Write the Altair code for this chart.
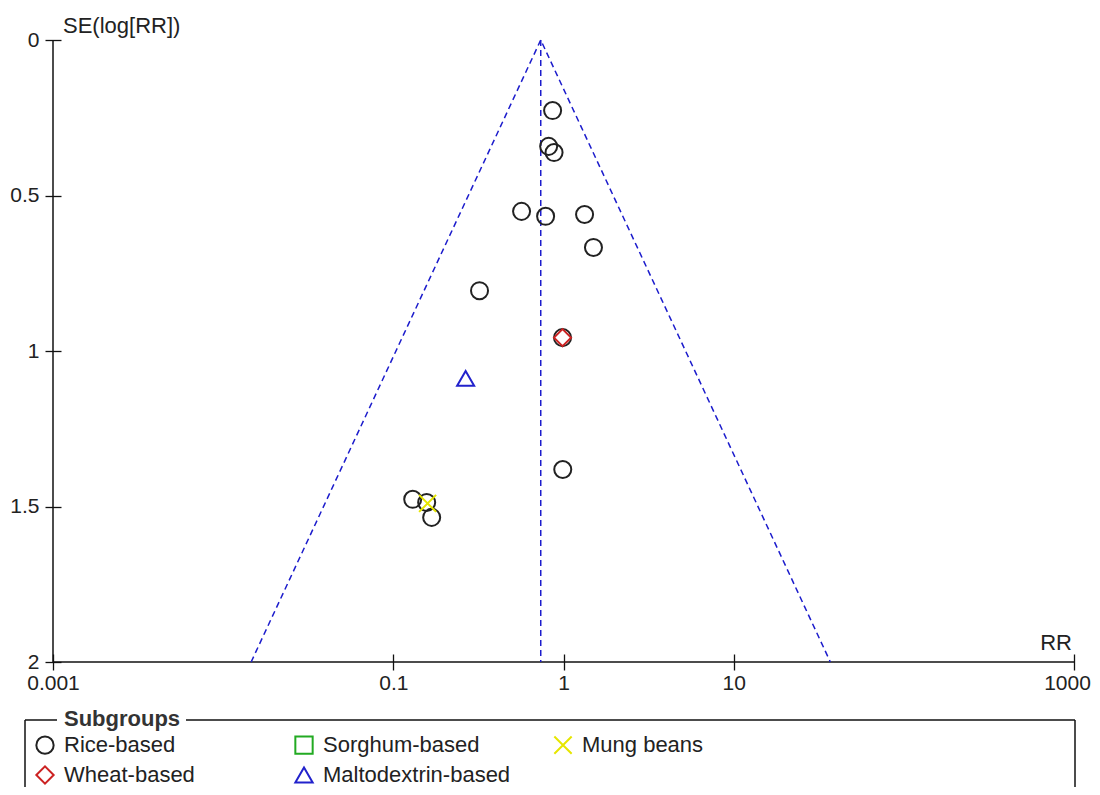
import altair as alt
import pandas as pd

# ---------------- data ----------------
groups = ["Rice-based", "Wheat-based", "Sorghum-based", "Maltodextrin-based", "Mung beans"]
group_colors = ["#222222", "#cc2222", "#22aa22", "#2222cc", "#e6e600"]
group_shapes = ["circle", "diamond", "square", "triangle-up", "M-1,-1L1,1M1,-1L-1,1"]

rice_rr = [0.863, 0.818, 0.880, 0.567, 0.785, 1.33, 1.50, 0.321, 0.987, 0.99, 0.130, 0.157, 0.168]
rice_se = [0.227, 0.342, 0.362, 0.551, 0.567, 0.561, 0.667, 0.806, 0.957, 1.381, 1.477, 1.487, 1.535]
wheat_rr = [0.987]
wheat_se = [0.957]
malto_rr = [0.266]
malto_se = [1.088]
mung_rr = [0.159]
mung_se = [1.490]

pooled_rr = [0.735]
funnel_rr = [0.0146, 0.735, 37.0]
funnel_se = [2.0, 0.0, 2.0]

x_ticks = [0.001, 0.1, 1, 10, 1000]
y_ticks = [0, 0.5, 1, 1.5, 2]

# ---------------- tables ----------------
rows = []
for r, s in zip(rice_rr, rice_se):
    rows.append({"group": "Rice-based", "rr": r, "se": s})
for r, s in zip(wheat_rr, wheat_se):
    rows.append({"group": "Wheat-based", "rr": r, "se": s})
for r, s in zip(malto_rr, malto_se):
    rows.append({"group": "Maltodextrin-based", "rr": r, "se": s})
for r, s in zip(mung_rr, mung_se):
    rows.append({"group": "Mung beans", "rr": r, "se": s})
pts = pd.DataFrame(rows)

funnel = pd.DataFrame({"rr": funnel_rr, "se": funnel_se, "ord": list(range(len(funnel_rr)))})
center = pd.DataFrame({"rr": pooled_rr, "se": [0.0], "se2": [2.0]})
one = pd.DataFrame({"a": [0]})

W, H = 1021, 622
FONT = "Liberation Sans"
TXT = "#222222"
BLUE = "#1c1ccc"

xscale = alt.Scale(type="log", domain=[0.001, 1000], nice=False)
yscale = alt.Scale(domain=[0, 2], reverse=True, nice=False, zero=False)

xaxis = alt.Axis(values=x_ticks, format="~g", title=None, grid=False, domain=False,
                 offset=-8, tickSize=16, tickColor="#111111", tickWidth=1.3,
                 labelPadding=2, labelFlush=False, labelOverlap=False, labelBound=False,
                 labelOffset=alt.condition("datum.value >= 1000", alt.value(-7), alt.value(0)),
                 labelFont=FONT, labelFontSize=21, labelColor=TXT)
yaxis = alt.Axis(values=y_ticks, format=".1~f", title=None, grid=False, domain=False,
                 offset=-8, tickSize=16, tickColor="#111111", tickWidth=1.3,
                 labelPadding=6, labelFont=FONT, labelFontSize=21, labelColor=TXT)

legend = alt.Legend(title=None, orient="none", legendX=-19, legendY=694,
                    columns=3, gridAlign="all", columnPadding=39, rowPadding=4,
                    labelFont=FONT, labelFontSize=22, labelColor=TXT, labelOffset=8,
                    labelLimit=400,
                    symbolSize=300, symbolStrokeWidth=2, symbolFillColor="transparent")

points = alt.Chart(pts).mark_point(filled=False, strokeWidth=2, size=290, opacity=1).encode(
    x=alt.X("rr:Q", scale=xscale, axis=xaxis),
    y=alt.Y("se:Q", scale=yscale, axis=yaxis),
    color=alt.Color("group:N", scale=alt.Scale(domain=groups, range=group_colors), legend=legend),
    shape=alt.Shape("group:N", scale=alt.Scale(domain=groups, range=group_shapes), legend=legend),
)

funnel_line = alt.Chart(funnel).mark_line(color=BLUE, strokeWidth=1.5, strokeDash=[6, 4]).encode(
    x=alt.X("rr:Q", scale=xscale),
    y=alt.Y("se:Q", scale=yscale),
    order="ord:Q",
)

center_line = alt.Chart(center).mark_rule(color=BLUE, strokeWidth=1.5, strokeDash=[6, 4]).encode(
    x=alt.X("rr:Q", scale=xscale),
    y=alt.Y("se:Q", scale=yscale),
    y2="se2:Q",
)

# axis lines (left and bottom only)
left_dom = alt.Chart(one).mark_rule(color="#111111", strokeWidth=1.5).encode(
    x=alt.value(0), y=alt.value(0), y2=alt.value(H))
bottom_dom = alt.Chart(one).mark_rule(color="#111111", strokeWidth=1.5).encode(
    x=alt.value(0), x2=alt.value(W), y=alt.value(H))

# axis titles
ytitle = alt.Chart(one).mark_text(align="left", baseline="alphabetic", font=FONT,
                                  fontSize=22, color=TXT).encode(
    x=alt.value(10), y=alt.value(-7), text=alt.value("SE(log[RR])"))
xtitle = alt.Chart(one).mark_text(align="right", baseline="alphabetic", font=FONT,
                                  fontSize=22, color=TXT).encode(
    x=alt.value(1019), y=alt.value(610), text=alt.value("RR"))

# legend frame
FY = 680
frame_l1 = alt.Chart(one).mark_rule(color="#111111", strokeWidth=1.5).encode(
    x=alt.value(-28), x2=alt.value(4), y=alt.value(FY))
frame_l2 = alt.Chart(one).mark_rule(color="#111111", strokeWidth=1.5).encode(
    x=alt.value(133), x2=alt.value(W + 1), y=alt.value(FY))
frame_l3 = alt.Chart(one).mark_rule(color="#111111", strokeWidth=1.5).encode(
    x=alt.value(-28), y=alt.value(FY), y2=alt.value(790))
frame_l4 = alt.Chart(one).mark_rule(color="#111111", strokeWidth=1.5).encode(
    x=alt.value(W + 1), y=alt.value(FY), y2=alt.value(790))
legend_title = alt.Chart(one).mark_text(align="left", baseline="middle", font=FONT,
                                        fontSize=22, fontWeight="bold", color="#333333").encode(
    x=alt.value(11), y=alt.value(FY - 1), text=alt.value("Subgroups"))

chart = alt.layer(
    left_dom, bottom_dom, funnel_line, center_line, points,
    ytitle, xtitle, frame_l1, frame_l2, frame_l3, frame_l4, legend_title,
).properties(
    width=W, height=H,
    background="white",
    autosize=alt.AutoSizeParams(type="none"),
    padding={"left": 45, "top": 32, "right": 18, "bottom": 125},
).configure_view(stroke=None)

chart.save("out.html", embed_options={"renderer": "svg", "actions": False})
